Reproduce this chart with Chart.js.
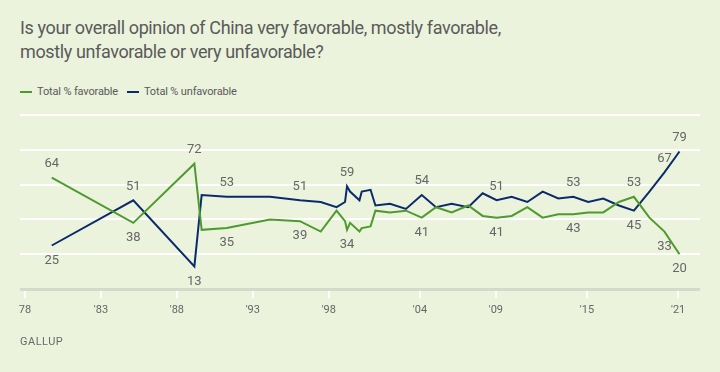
<!DOCTYPE html>
<html>
<head>
<meta charset="utf-8">
<script src="https://cdn.jsdelivr.net/npm/chart.js@4"></script>
<style>
  html, body { margin: 0; padding: 0; background: #ebf3dd; }
  #wrap { position: relative; width: 720px; height: 372px; overflow: hidden; font-family: Roboto, "Liberation Sans", sans-serif; }
  #title { position: absolute; left: 20px; top: 16px; font-size: 18px; line-height: 24px; letter-spacing: -0.38px; color: #5a5a5a; }
  #legend { position: absolute; left: 20px; top: 85px; font-size: 11px; letter-spacing: -0.15px; color: #5a5a5a; display: flex; }
  #legend span.item { display: flex; align-items: center; margin-right: 9px; }
  #legend span.mark { display: inline-block; width: 12px; height: 2px; margin-right: 5px; }
  #source { position: absolute; left: 20px; top: 335px; font-size: 11px; letter-spacing: 0.5px; color: #6a6a6a; }
  canvas { position: absolute; left: 0; top: 0; }
</style>
</head>
<body>
<div id="wrap">
  <div id="title">Is your overall opinion of China very favorable, mostly favorable,<br>mostly unfavorable or very unfavorable?</div>
  <div id="legend"></div>
  <canvas id="chart" width="720" height="372"></canvas>
  <div id="source">GALLUP</div>
</div>
<script>
const years = [1979.76, 1985.13, 1989.15, 1989.63, 1991.28, 1994.13, 1996.10, 1997.47, 1998.51, 1999.07,
  1999.20, 1999.40, 2000.02, 2000.17, 2000.75, 2001.07, 2002.03, 2003.08, 2004.12, 2005.06,
  2006.09, 2007.18, 2008.13, 2009.05, 2010.04, 2011.07, 2012.08, 2013.11, 2014.10, 2015.08,
  2016.07, 2017.10, 2018.09, 2019.11, 2020.10, 2021.09];
const favorable = [64, 38, 72, 34, 35, 40, 39, 33, 45, 39, 34, 38, 33, 35, 36, 45, 44, 45, 41, 47,
  44, 48, 42, 41, 42, 47, 41, 43, 43, 44, 44, 50, 53, 41, 33, 20];
const unfavorable = [25, 51, 13, 54, 53, 53, 51, 50, 47, 50, 59, 56, 51, 56, 57, 48, 49, 46, 54, 47,
  49, 47, 55, 51, 53, 50, 56, 52, 53, 50, 52, 48, 45, 56, 67, 79];

const tickYears = [1978, 1983, 1988, 1993, 1998, 2004, 2009, 2015, 2021];
const tickLabels = ["78", "'83", "'88", "'93", "'98", "'04", "'09", "'15", "'21"];

// which points get a number, and on which side of the line
const favAbove = [0, 2, 32];
const favBelow = [1, 4, 6, 10, 18, 23, 28, 34, 35];
const unfavAbove = [1, 4, 6, 10, 18, 23, 28, 34, 35];
const unfavBelow = [0, 2, 32];

const green = "#4f9a2f";
const navy = "#0b2a6b";

const pointLabels = {
  id: "pointLabels",
  afterDatasetsDraw(chart) {
    const ctx = chart.ctx;
    ctx.save();
    ctx.font = "13px Roboto, 'Liberation Sans', sans-serif";
    ctx.fillStyle = "#666";
    ctx.textAlign = "center";
    ctx.textBaseline = "middle";
    const put = (dsIndex, list, dy) => {
      const meta = chart.getDatasetMeta(dsIndex);
      const values = chart.data.datasets[dsIndex].data;
      list.forEach(i => {
        const p = meta.data[i];
        ctx.fillText(values[i].y, p.x, p.y + dy);
      });
    };
    put(0, favAbove, -14);
    put(0, favBelow, 15);
    put(1, unfavAbove, -14);
    put(1, unfavBelow, 15);
    ctx.restore();
  }
};

const chart = new Chart(document.getElementById("chart"), {
  type: "line",
  data: {
    datasets: [
      {
        label: "Total % favorable",
        data: years.map((y, i) => ({ x: y, y: favorable[i] })),
        borderColor: green,
        borderWidth: 2,
        pointRadius: 0,
        tension: 0,
      },
      {
        label: "Total % unfavorable",
        data: years.map((y, i) => ({ x: y, y: unfavorable[i] })),
        borderColor: navy,
        borderWidth: 2,
        pointRadius: 0,
        tension: 0,
      },
    ],
  },
  options: {
    responsive: false,
    animation: false,
    layout: { padding: { left: 20, right: 20, top: 115, bottom: 43 } },
    scales: {
      x: {
        type: "linear",
        min: 1977.67,
        max: 2022.44,
        afterBuildTicks: (scale) => { scale.ticks = tickYears.map(v => ({ value: v })); },
        afterFit: (scale) => { scale.height = 40; },
        ticks: {
          color: "#666",
          padding: 6,
          maxRotation: 0,
          autoSkip: false,
          font: { size: 11, family: "Roboto, 'Liberation Sans', sans-serif" },
          callback: (v) => tickLabels[tickYears.indexOf(v)],
        },
        grid: { drawOnChartArea: false, drawTicks: true, tickLength: 9, color: "#ffffff", lineWidth: 2 },
        border: { display: false },
      },
      y: {
        min: 0,
        max: 100,
        ticks: { display: false, stepSize: 20 },
        grid: {
          drawTicks: false,
          color: (c) => (c.tick.value === 0 ? "#d5d9cc" : "#ffffff"),
          lineWidth: (c) => (c.tick.value === 0 ? 3 : 2),
        },
        border: { display: false },
      },
    },
    plugins: {
      legend: { display: false },
      tooltip: { enabled: false },
    },
  },
  plugins: [pointLabels],
});

const legend = document.getElementById("legend");
chart.data.datasets.forEach(ds => {
  const item = document.createElement("span");
  item.className = "item";
  item.innerHTML = '<span class="mark" style="background:' + ds.borderColor + '"></span>' + ds.label;
  legend.appendChild(item);
});
</script>
</body>
</html>
